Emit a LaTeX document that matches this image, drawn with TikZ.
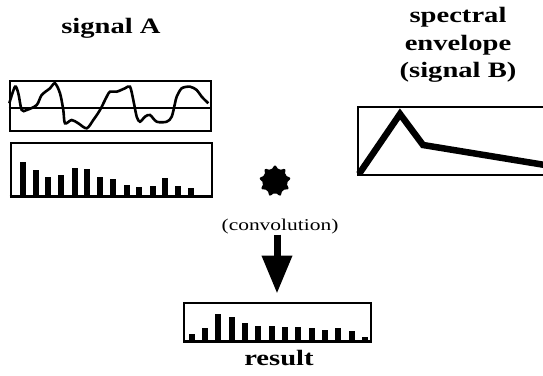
\documentclass[tikz,border=0pt]{standalone}
\usepackage{fontspec}
\setmainfont{Liberation Serif}
\newfontfamily\headfont[FakeStretch=1.3]{Liberation Serif}
\usetikzlibrary{arrows.meta,shapes.geometric}
\tikzset{
  headtext/.style={font=\headfont\bfseries\fontsize{22}{27.5}\selectfont, align=center, inner sep=0pt},
  smalltext/.style={font=\headfont\fontsize{16.5}{18}\selectfont, inner sep=0pt},
  frame/.style={draw, line width=2pt, inner sep=0pt},
  fatarrow/.style={line width=7pt, -{Triangle[width=29pt,length=38pt]}, shorten >=8pt}
}
\begin{document}
\begin{tikzpicture}[x=1pt,y=-1pt]
  \useasboundingbox (0,0) rectangle (543,375);
  % signal A
  \node[headtext] (sigA) at (111,28) {signal A};
  \node[frame, minimum width=201pt, minimum height=50pt] (wave) at (110,105.5) {};
  \draw[line width=1.6pt] (wave.west |- 0,108) -- (wave.east |- 0,108);
  \draw[line width=2.6pt] plot[smooth] coordinates {(9.3,103.3) (15,86.7) (18.3,93.3) (21.7,110) (26.7,110)
    (36.7,105) (41.7,95) (50,88.3) (55,83.3) (60,93.3) (63.3,110) (65,123.3) (71.7,120) (78.3,123.3)
    (86.7,128.3) (93.3,120) (100,110) (106.7,96.7) (110,91.7) (116.7,91.7) (125,88.3) (130,86.7)
    (133.3,100) (136.7,116.7) (140,121.7) (145,116.7) (150,115) (156.7,121.7) (166.7,121.7)
    (171.7,116.7) (175,103.3) (176.7,96.7) (181.7,88.3) (190,86.7) (196.7,90) (201.7,96.7) (208.3,103.3)};
  \node[frame, minimum width=201pt, minimum height=54pt] (spec) at (111,169.5) {};
  \draw[line width=3pt] (spec.south west) ++(0,-1.5) -- ++(201,0);
  \foreach \x/\t in {22.7/161.7, 36/170, 48.3/176.7, 61/175, 75/167.7, 87.3/169.3, 100/176.7,
    113.3/179.3, 126.7/185, 139.3/187.3, 153.3/185.7, 165/178.3, 178.3/185.7, 190.7/188.3}
    \fill (\x-3,196) rectangle (\x+3,\t);
  % signal B
  \node[headtext] (sigB) at (458,45) {spectral\\envelope\\(signal B)};
  \node[frame, minimum width=200pt, minimum height=68pt] (env) at (458,141) {};
  \draw[line width=6.5pt, line join=miter] (359,174) -- (400,114) -- (423,145) -- (545,165);
  % convolution
  \node[star, star points=9, star point ratio=1.45, fill, minimum size=33pt, rounded corners=2pt, inner sep=0pt] (conv star) at (275,181) {};
  \node[smalltext] (conv) at (280,227) {(convolution)};
  \node[frame, minimum width=187pt, minimum height=39pt] (res) at (277.5,322) {};
  \draw[line width=3pt] (res.south west) ++(0,-1.5) -- ++(187,0);
  \foreach \x/\t in {191.7/334.3, 205/328.3, 218.3/314, 231.7/316.7, 245/323.3, 258.3/325.7, 271.7/326,
    285/327.3, 298.3/327.3, 311.7/328.3, 325/330, 338.3/328.3, 351.7/331, 365/336.7}
    \fill (\x-3,340) rectangle (\x+3,\t);
  \draw[fatarrow] (conv.south -| 277,0) -- (res.north -| 277,0);
  \node[headtext] (resl) at (279,358) {result};
\end{tikzpicture}
\end{document}
